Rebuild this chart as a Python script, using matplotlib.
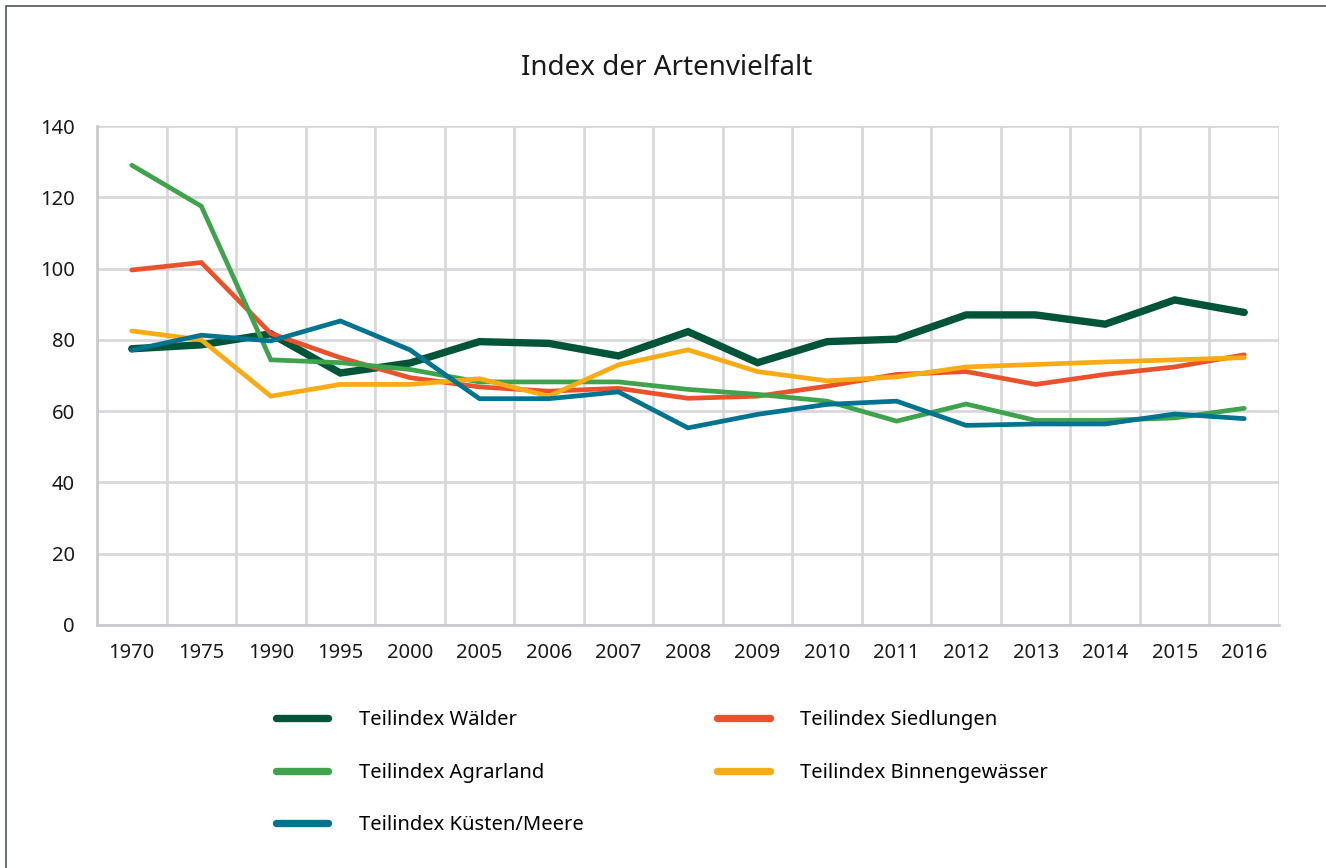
import matplotlib.pyplot as plt
from matplotlib.patches import Rectangle

plt.rcParams['font.family'] = ['Noto Sans', 'DejaVu Sans']

years = ["1970", "1975", "1990", "1995", "2000", "2005", "2006", "2007", "2008",
         "2009", "2010", "2011", "2012", "2013", "2014", "2015", "2016"]

waelder = [77.5, 78.6, 81.7, 70.7, 73.5, 79.5, 79.0, 75.5, 82.3, 73.6, 79.5, 80.2,
           87.0, 87.0, 84.4, 91.2, 87.7]
siedlungen = [99.6, 101.7, 81.8, 75.0, 69.4, 66.8, 65.6, 66.4, 63.6, 64.2, 67.0, 70.3,
              71.1, 67.5, 70.3, 72.4, 75.8]
agrarland = [129.0, 117.5, 74.4, 73.6, 71.7, 68.2, 68.2, 68.2, 66.1, 64.7, 62.8, 57.2,
             62.0, 57.4, 57.4, 58.1, 60.8]
binnen = [82.5, 80.0, 64.2, 67.5, 67.5, 69.1, 64.2, 73.0, 77.2, 71.1, 68.5, 69.6,
          72.4, 73.1, 73.8, 74.4, 75.0]
kuesten = [77.1, 81.3, 79.7, 85.3, 77.2, 63.5, 63.5, 65.4, 55.3, 59.1, 61.9, 62.8,
           56.0, 56.4, 56.4, 59.2, 57.9]

labels = ["Teilindex Wälder", "Teilindex Siedlungen", "Teilindex Agrarland",
          "Teilindex Binnengewässer", "Teilindex Küsten/Meere"]
colors = ["#005437", "#e9522c", "#3fa34d", "#f9ab16", "#00738f"]
widths = [5.3, 3.4, 3.4, 3.4, 3.4]

fig = plt.figure(figsize=(13.26, 8.68), dpi=100)
ax = fig.add_axes([97 / 1326, 1 - 625 / 868, (1279 - 97) / 1326, (625 - 126) / 868])

x = list(range(len(years)))
lines = []
for data, lab, c, w in zip([waelder, siedlungen, agrarland, binnen, kuesten], labels, colors, widths):
    ln, = ax.plot(x, data, color=c, lw=w, label=lab, solid_capstyle='round',
                  solid_joinstyle='miter', zorder=3)
    lines.append(ln)

ax.set_xlim(-0.5, len(years) - 0.5)
ax.set_ylim(0, 140)
ax.set_yticks(range(0, 141, 20))
ax.set_xticks(x)
ax.set_xticklabels(years)
ax.set_xticks([i - 0.5 for i in range(len(years) + 1)], minor=True)
ax.tick_params(axis='both', which='both', length=0, labelsize=14.5, colors='#1a1a1a')
ax.tick_params(axis='x', pad=13)
ax.tick_params(axis='y', pad=16)
ax.grid(axis='y', which='major', color='#d6d6db', lw=1.9)
ax.grid(axis='x', which='minor', color='#d6d6db', lw=1.9)
ax.grid(axis='x', which='major', visible=False)
for s in ['top', 'right']:
    ax.spines[s].set_visible(False)
for s in ['left', 'bottom']:
    ax.spines[s].set_color('#c8c8cd')
    ax.spines[s].set_linewidth(1.9)

fig.text(667 / 1326, 1 - 68 / 868, "Index der Artenvielfalt", ha='center', va='center',
         fontsize=20, color='#1a1a1a')

order = [0, 2, 4, 1, 3]
leg = fig.legend([lines[i] for i in order], [labels[i] for i in order], ncol=2,
                 loc='upper left', bbox_to_anchor=(258 / 1326, 1 - 692 / 868),
                 frameon=False, fontsize=14.5, handlelength=2.6, handletextpad=1.5,
                 labelspacing=1.62, columnspacing=6.65)
for h in leg.get_lines():
    h.set_linewidth(5.3)
    h.set_solid_capstyle('round')

fig.patches.append(Rectangle((6 / 1326, -0.01), 1.1, 1 - 6 / 868 + 0.01, transform=fig.transFigure,
                             fill=False, edgecolor='#5a6660', lw=1.3))

fig.savefig("out.png", dpi=100)
